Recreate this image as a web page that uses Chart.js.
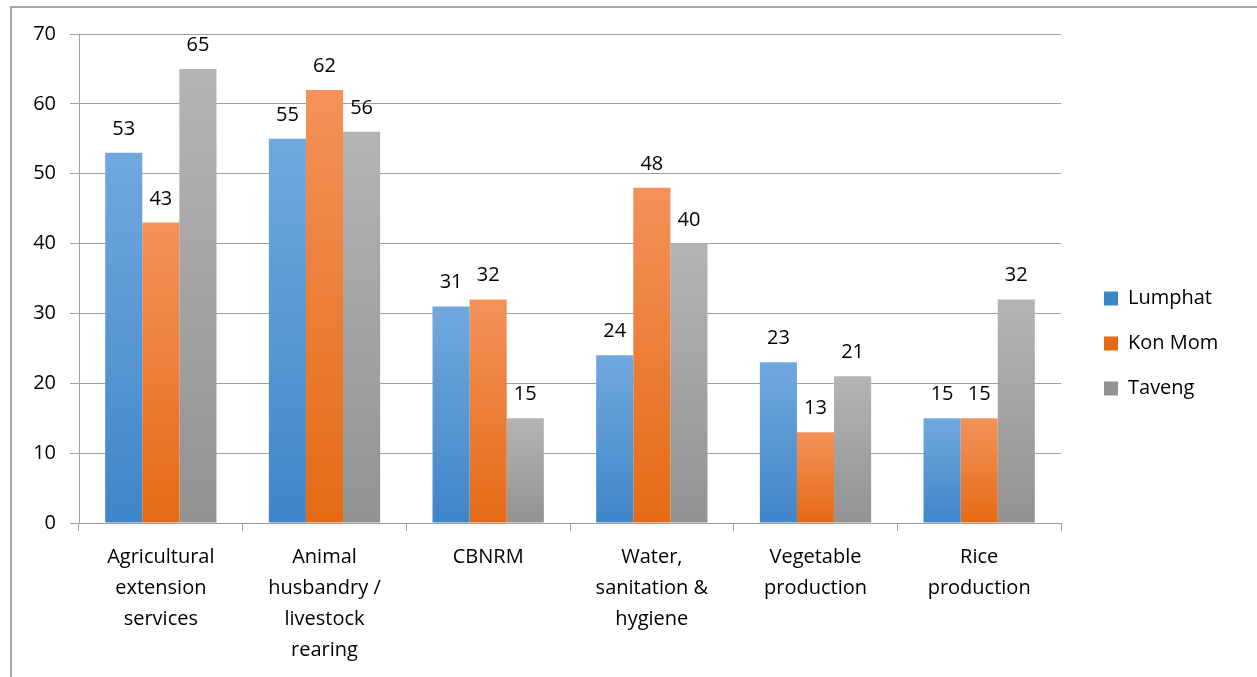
<!DOCTYPE html>
<html>
<head>
<meta charset="utf-8">
<script src="https://cdn.jsdelivr.net/npm/chart.js@4/dist/chart.umd.min.js"></script>
<style>
  body { margin: 0; background: #fff; }
  #frame {
    position: absolute; left: 10px; top: 6px;
    width: 1245px; height: 669px;
    border-left: 2px solid #a6a6a6; border-top: 2px solid #a6a6a6;
  }
  #chart { display: block; }
</style>
</head>
<body>
<div id="frame"><canvas id="chart" width="1245" height="669"></canvas></div>
<script>
// chart data
const categories = [
    ['Agricultural', 'extension', 'services'],
    ['Animal', 'husbandry /', 'livestock', 'rearing'],
    ['CBNRM'],
    ['Water,', 'sanitation &', 'hygiene'],
    ['Vegetable', 'production'],
    ['Rice', 'production']
];
const lumphat = [53, 55, 31, 24, 23, 15];
const konMom = [43, 62, 32, 48, 13, 15];
const taveng = [65, 56, 15, 40, 21, 32];
const yTicks = [0, 10, 20, 30, 40, 50, 60, 70];

const FONT = '"Open Sans", Lato, sans-serif';

// top / bottom colour of each bar gradient
const shades = {
    blue: ['#70a8de', '#3f86c8'],
    orange: ['#f4925a', '#e46a15'],
    gray: ['#b4b4b4', '#929292']
};

function barGradient(pair) {
    return function(context) {
        const chart = context.chart;
        const yScale = chart.scales.y;
        if (!chart.chartArea || !yScale || context.raw === undefined) {
            return pair[1];
        }
        const top = yScale.getPixelForValue(context.raw);
        const bottom = yScale.getPixelForValue(0);
        const g = chart.ctx.createLinearGradient(0, top, 0, bottom);
        g.addColorStop(0, pair[0]);
        g.addColorStop(1, pair[1]);
        return g;
    };
}

// draw the numbers above the bars
const valueLabels = {
    id: 'valueLabels',
    afterDatasetsDraw(chart) {
        const ctx = chart.ctx;
        ctx.save();
        ctx.font = '20px ' + FONT;
        ctx.fillStyle = '#000';
        ctx.textAlign = 'center';
        ctx.textBaseline = 'alphabetic';
        chart.data.datasets.forEach((ds, i) => {
            chart.getDatasetMeta(i).data.forEach((bar, j) => {
                ctx.fillText(String(ds.data[j]), bar.x, bar.y - 18);
            });
        });
        ctx.restore();
    }
};

// fixed legend column width, nudged a little away from the plot
const legendBox = {
    id: 'legendBox',
    afterInit(chart) {
        const legend = chart.legend;
        const fit = legend.fit;
        legend.fit = function() {
            fit.call(this);
            this.width = 196;
        };
    },
    afterLayout(chart) {
        const legend = chart.legend;
        legend.left += 18;
        legend.right += 18;
        legend.top -= 9;
        legend.bottom -= 9;
    }
};

const ctx = document.getElementById('chart').getContext('2d');
const chart = new Chart(ctx, {
    type: 'bar',
    data: {
        labels: categories,
        datasets: [
            { label: 'Lumphat', data: lumphat, backgroundColor: barGradient(shades.blue) },
            { label: 'Kon Mom', data: konMom, backgroundColor: barGradient(shades.orange) },
            { label: 'Taveng', data: taveng, backgroundColor: barGradient(shades.gray) }
        ]
    },
    options: {
        responsive: false,
        animation: false,
        devicePixelRatio: 1,
        layout: { padding: { top: 20, right: 0, bottom: 0, left: 0 } },
        datasets: { bar: { categoryPercentage: 0.68, barPercentage: 1.0 } },
        plugins: {
            tooltip: { enabled: false },
            legend: {
                position: 'right',
                labels: {
                    font: { family: FONT, size: 20 },
                    color: '#000',
                    boxWidth: 14,
                    boxHeight: 14,
                    padding: 25,
                    generateLabels(chart) {
                        return chart.data.datasets.map((ds, i) => ({
                            text: ds.label,
                            fillStyle: Object.values(shades)[i][1],
                            strokeStyle: 'transparent',
                            lineWidth: 0,
                            datasetIndex: i
                        }));
                    }
                }
            }
        },
        scales: {
            x: {
                grid: {
                    offset: true,
                    drawOnChartArea: false,
                    color: '#a0a0a0',
                    tickLength: 8
                },
                border: { color: '#a0a0a0' },
                ticks: {
                    font: { family: FONT, size: 20, lineHeight: 1.55 },
                    color: '#000',
                    maxRotation: 0,
                    autoSkip: false,
                    padding: 11
                }
            },
            y: {
                min: 0,
                max: 70,
                afterBuildTicks(scale) {
                    scale.ticks = yTicks.map(v => ({ value: v }));
                },
                afterFit(scale) { scale.width = 67; },
                grid: { color: '#a0a0a0', tickLength: 9 },
                border: { color: '#a0a0a0' },
                ticks: {
                    font: { family: FONT, size: 20 },
                    color: '#000',
                    padding: 14
                }
            }
        }
    },
    plugins: [valueLabels, legendBox]
});
console.log('chart area', chart.chartArea);
</script>
</body>
</html>
